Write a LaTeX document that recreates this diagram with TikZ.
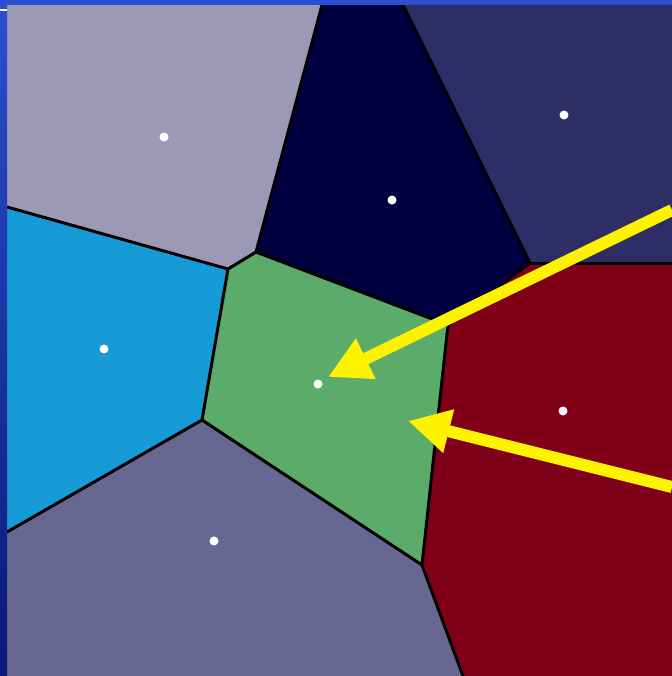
\documentclass[tikz,border=0pt]{standalone}
\usetikzlibrary{arrows.meta}
\definecolor{cellA}{RGB}{155,153,181}
\definecolor{cellB}{RGB}{0,0,64}
\definecolor{cellC}{RGB}{47,45,101}
\definecolor{cellD}{RGB}{22,155,214}
\definecolor{cellE}{RGB}{91,171,107}
\definecolor{cellF}{RGB}{128,0,24}
\definecolor{cellG}{RGB}{104,103,145}
\definecolor{frameblue}{RGB}{42,79,208}
\definecolor{framedark}{RGB}{10,24,120}
\tikzset{cellline/.style={line width=1.5pt,line join=round}}
\tikzset{yarrow/.style={yellow,line width=6pt,
    -{Triangle[length=21pt,width=21pt]}}}
\tikzset{site/.style={fill=white,circle,inner sep=0pt,minimum size=4.5pt}}

\begin{document}
\begin{tikzpicture}[x=0.5pt,y=-0.5pt]

\useasboundingbox (0,0) rectangle (672,676);

%   頂点
\coordinate (B) at (256,252);
\coordinate (C) at (228,269);
\coordinate (D) at (202,420);
\coordinate (E) at (448,325);
\coordinate (F) at (422,565);
\coordinate (G) at (530,263);

%   セル
\fill[cellA] (7,5) -- (322,5) -- (B) -- (C) -- (7,207) -- cycle;
\fill[cellB] (322,5) -- (403,5) -- (G) -- (E) -- (B) -- cycle;
\fill[cellC] (403,5) -- (672,5) -- (672,263) -- (G) -- cycle;
\fill[cellD] (7,207) -- (C) -- (D) -- (7,532) -- cycle;
\fill[cellE] (B) -- (C) -- (D) -- (F) -- (E) -- cycle;
\fill[cellF] (E) -- (G) -- (672,263) -- (672,676) -- (463,676) -- (F) -- cycle;
\fill[cellG] (7,532) -- (D) -- (F) -- (463,676) -- (7,676) -- cycle;

%   境界線
\draw[cellline] (322,5) -- (B) -- (C) -- (7,207);
\draw[cellline] (C) -- (D) -- (7,532);
\draw[cellline] (B) -- (E) -- (F) -- (D);
\draw[cellline] (403,5) -- (G) -- (E);
\draw[cellline] (G) -- (672,263);
\draw[cellline] (F) -- (463,676);

%   母点
\node[site] (sA) at (164,137) {};
\node[site] (sB) at (392,200) {};
\node[site] (sC) at (564,115) {};
\node[site] (sD) at (104,349) {};
\node[site] (sE) at (318,384) {};
\node[site] (sF) at (563,411) {};
\node[site] (sG) at (214,541) {};

%   矢印
\coordinate (a1) at (672,210);
\coordinate (t1) at (328,377);
\coordinate (a2) at (672,487);
\coordinate (t2) at (408,421);
\draw[yarrow] (a1) -- (t1);
\draw[yarrow] (a2) -- (t2);

%   枠
\shade[top color=frameblue,bottom color=framedark] (0,0) rectangle (7,676);
\fill[frameblue] (0,0) rectangle (672,5);
\draw[white,line width=1pt] (0,10) -- (7,10);

\end{tikzpicture}
\end{document}
